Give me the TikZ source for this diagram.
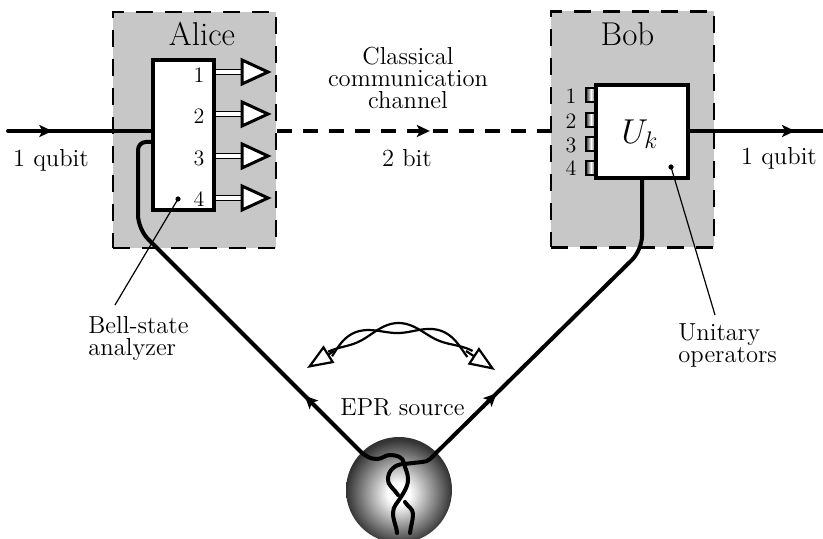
\documentclass[tikz,border=0pt]{standalone}
\usetikzlibrary{arrows.meta,decorations.markings}
\definecolor{boxgray}{gray}{0.78}
% radial shading for the source ball
\pgfdeclareradialshading{eprball}{\pgfpoint{0bp}{-2bp}}{color(0bp)=(white); color(5bp)=(white); color(25bp)=(black!80); color(50bp)=(black!80)}

\begin{document}
\begin{tikzpicture}
[
x=0.5pt, y=-0.5pt,
partybox/.style={rectangle, draw=black, fill=boxgray, line width=1.3pt, dash pattern=on 8.5pt off 6pt, minimum width=81.5pt, minimum height=118pt, inner sep=0pt},
devbox/.style={rectangle, draw=black, fill=white, line width=2pt, inner sep=0pt},
bitin/.style={rectangle, draw=black, line width=1pt, left color=black!80, right color=black!80, middle color=white, minimum width=5pt, minimum height=7pt, inner sep=0pt},
qline/.style={line width=2pt, line cap=round},
wave/.style={line width=1.1pt},
pointer/.style={line width=0.6pt},
midarrow/.style={postaction={decorate, decoration={markings, mark=at position #1 with {\arrow{Stealth[length=6.5pt, width=6pt, inset=1.5pt]}}}}},
tlabel/.style={font=\fontsize{12.3}{11}\selectfont, inner sep=0pt},
numlabel/.style={font=\fontsize{11}{12}\selectfont, inner sep=0pt},
namelabel/.style={font=\fontsize{16.5}{19}\selectfont, inner sep=0pt},
bitout/.pic={
  \draw[line width=0.9pt, double=white, double distance=1.6pt] (0,0) -- (28,0);
  \draw[line width=1.5pt, fill=white, line join=miter] (26,-12) -- (52,0) -- (26,12) -- cycle;
},
]
\useasboundingbox (0,0) rectangle (823,539);

% the two parties
\node at (194.5,130) [partybox] (alice) {};
\node at (632.5,129.5) [partybox] (bob) {};
\node at (202,33.5) [namelabel] (alicename) {Alice};
\node at (627.5,34.5) [namelabel] (bobname) {Bob};

% Alice: Bell-state analyzer with its four outputs
\node at (183.5,135) [devbox, minimum width=30.5pt, minimum height=75pt] (bsa) {};
\pic (bitone) at (bsa.east |- 0,72) {bitout};
\pic (bittwo) at (bsa.east |- 0,114) {bitout};
\pic (bitthree) at (bsa.east |- 0,156) {bitout};
\pic (bitfour) at (bsa.east |- 0,198) {bitout};
\node at (199,75) [numlabel] (aone) {1};
\node at (199,116) [numlabel] (atwo) {2};
\node at (199,158) [numlabel] (athree) {3};
\node at (199,199) [numlabel] (afour) {4};

% Bob: unitary operators with four bit inputs
\node at (591,95) [bitin] (bone) {};
\node at (591,120) [bitin] (btwo) {};
\node at (591,144) [bitin] (bthree) {};
\node at (591,168) [bitin] (bfour) {};
\node at (642,131.5) [devbox, minimum width=46pt, minimum height=46.5pt] (uk) {};
\node at (640,134) [font=\fontsize{17}{20}\selectfont] (ukname) {$U_k$};
\node at (571,96) [numlabel] (bnone) {1};
\node at (571,121) [numlabel] (bntwo) {2};
\node at (571,145) [numlabel] (bnthree) {3};
\node at (571,168) [numlabel] (bnfour) {4};

% EPR source
\node at (399,490) [circle, shade, shading=eprball, minimum size=53pt, inner sep=0pt] (epr) {};
\node at (402.5,415) [tlabel, anchor=base] (eprname) {EPR source};

% qubit in and out
\coordinate (qin) at (8,131);
\coordinate (qout) at (823,131);
\draw[qline, midarrow=0.31] (qin) -- (qin -| bsa.west);
\draw[qline, midarrow=0.79] (uk.east |- qout) -- (qout);
\node at (51,167) [tlabel, anchor=base] (qinname) {1 qubit};
\node at (779,165) [tlabel, anchor=base] (qoutname) {1 qubit};

% classical channel
\draw[qline, line cap=butt, dash pattern=on 7.5pt off 5.5pt, midarrow=0.56] (alice.east |- qin) -- (bob.west |- qin);
\node at (408,47) [tlabel, anchor=north, align=center] (chname) {Classical\\communication\\channel};
\node at (407,167) [tlabel, anchor=base] (bitname) {2 bit};

% entangled pair to Alice and Bob
\draw[qline, midarrow=40pt] (epr.135) [rounded corners=7pt] -- (138,229) [rounded corners=4pt] -- (138,142) -- (bsa.west |- 0,142);
\draw[qline, rounded corners=7pt, midarrow=42pt] (epr.45) -- (uk.south |- 0,250) -- (uk.south);

% twisted pair inside the ball
\draw[qline] (epr.135) to[out=-40, in=180] (377,459) to[out=0, in=180] (390,455) to[out=0, in=100] (404,463) to[out=-80, in=90] (408,479) to[out=-90, in=60] (401,497) to[out=-120, in=90] (393,513) to[out=-90, in=95] (397,533);
\draw[qline] (epr.45) to[out=-135, in=0] (422,462) -- (404,464) to[out=180, in=90] (388,479) to[out=-90, in=120] (398,495);
\draw[qline] (405,502) to[out=-60, in=90] (413,514) to[out=-90, in=85] (410,533);

% entanglement arc
\draw[wave] plot[domain=130.8:49.2, samples=90, smooth, variable=\t] ({400+(107+5*sin(7.72*(\t-126)))*cos(\t)}, {435-(107+5*sin(7.72*(\t-126)))*sin(\t)});
\draw[wave] plot[domain=130.8:49.2, samples=90, smooth, variable=\t] ({400+(107-5*sin(7.72*(\t-126)))*cos(\t)}, {435-(107-5*sin(7.72*(\t-126)))*sin(\t)});
\draw[wave, -{Triangle[open, length=13pt, width=10pt]}] (334,351) -- (307,368);
\draw[wave, -{Triangle[open, length=13pt, width=10pt]}] (466,351) -- (495,370);

% pointers
\fill (178,199) circle (1.3pt) coordinate (bsadot);
\coordinate (bsaend) at (115,305);
\draw[pointer] (bsadot) -- (bsaend);
\node at (88,316) [tlabel, anchor=north west, align=left] (bsaname) {Bell-state\\analyzer};
\fill (671,167) circle (1.3pt) coordinate (ukdot);
\coordinate (ukend) at (715,315);
\draw[pointer] (ukdot) -- (ukend);
\node at (678,323) [tlabel, anchor=north west, align=left] (ukopname) {Unitary\\operators};
\end{tikzpicture}
\end{document}
